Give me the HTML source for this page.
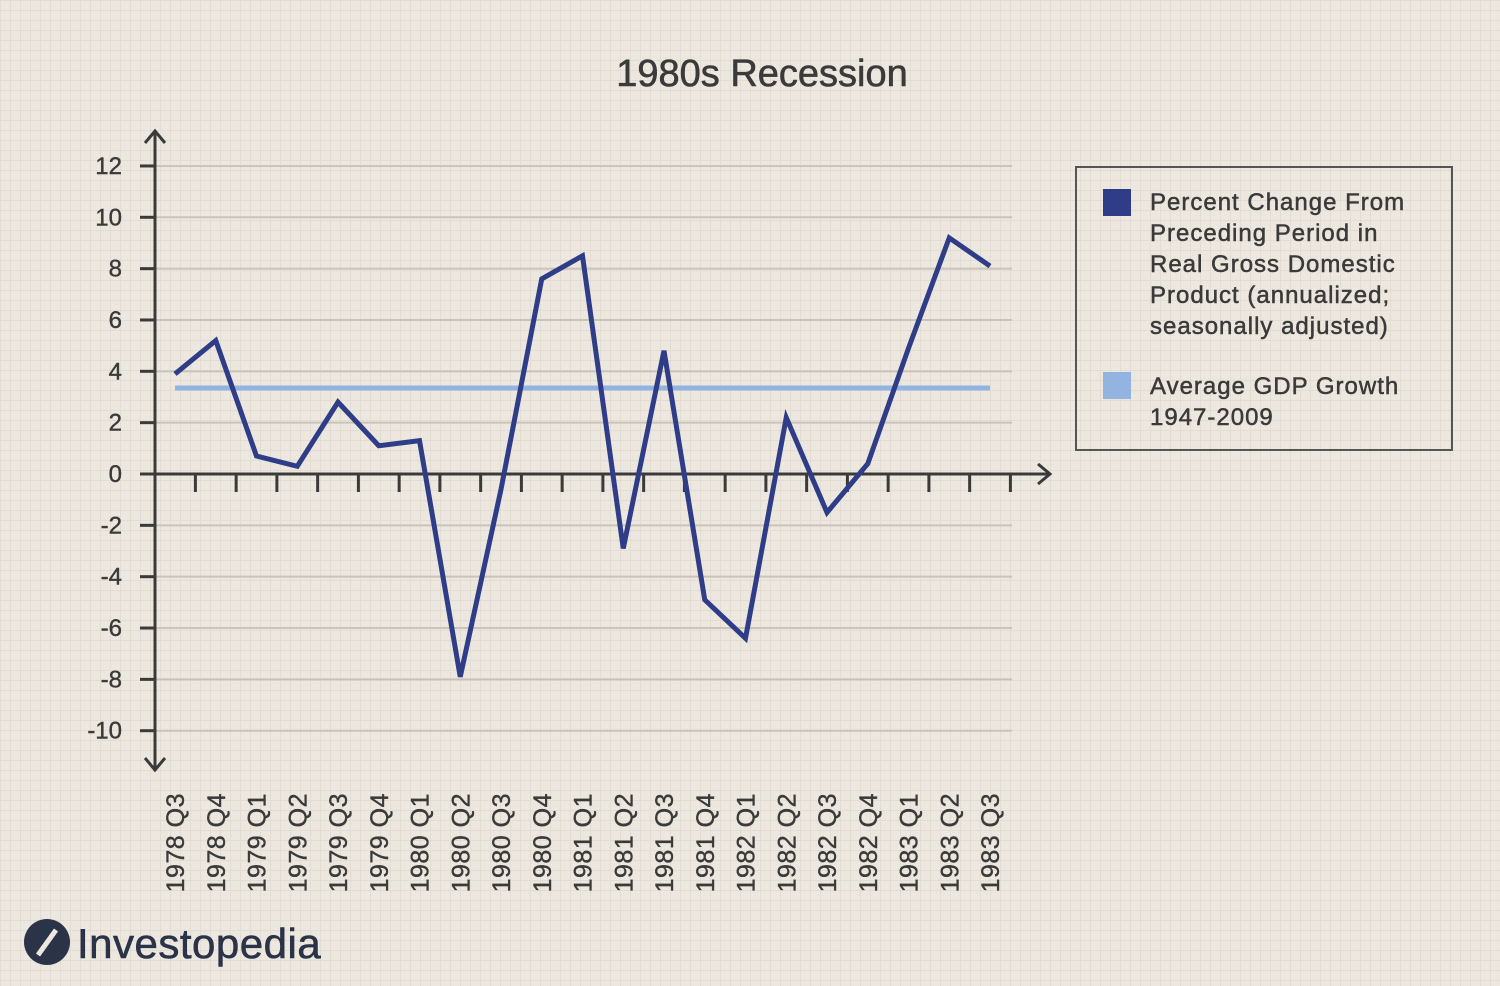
<!DOCTYPE html>
<html><head><meta charset="utf-8"><style>
body{margin:0;width:1500px;height:986px;overflow:hidden;background:#ede8df;font-family:"Liberation Sans",sans-serif;}
#bg{position:absolute;left:0;top:0;width:1500px;height:986px;background-color:#ede8df;background-image:linear-gradient(#e2dcd2 1px,transparent 1px),linear-gradient(90deg,#e2dcd2 1px,transparent 1px);background-size:10px 10px;}
svg{position:absolute;left:0;top:0}
</style></head><body>
<div id="bg"></div>
<svg id="chart" width="1500" height="986"></svg>
<script>
const categories=["1978 Q3","1978 Q4","1979 Q1","1979 Q2","1979 Q3","1979 Q4","1980 Q1","1980 Q2","1980 Q3","1980 Q4","1981 Q1","1981 Q2","1981 Q3","1981 Q4","1982 Q1","1982 Q2","1982 Q3","1982 Q4","1983 Q1","1983 Q2","1983 Q3"];
const gdpValues=[3.9,5.2,0.7,0.3,2.8,1.1,1.3,-7.9,-0.6,7.6,8.5,-2.9,4.8,-4.9,-6.4,2.2,-1.5,0.4,4.9,9.2,8.1];
const averageGrowth=[3.35];
const yTicks=[12,10,8,6,4,2,0,-2,-4,-6,-8,-10];
const NS="http://www.w3.org/2000/svg";
const svg=document.getElementById('chart');
const x=i=>175+i*(990-175)/(categories.length-1);
const y=v=>474-v*25.67;
function mk(t,a,p){const e=document.createElementNS(NS,t);for(const k in a)e.setAttribute(k,a[k]);(p||svg).appendChild(e);return e;}
let t=mk('text',{x:762,y:86,'text-anchor':'middle','font-size':38,fill:'#3a3a3a','stroke':'#3a3a3a','stroke-width':0.6});t.textContent='1980s Recession';


yTicks.forEach(v=>{
 if(v!==0){const g=mk('line',{x1:155,x2:1012,y1:y(v),y2:y(v),stroke:'#c9c3ba','stroke-width':2});
 
 }
 mk('line',{x1:140,x2:155,y1:y(v),y2:y(v),stroke:'#3a3a3a','stroke-width':3});
 const l=mk('text',{x:122,y:y(v)+8,'text-anchor':'end','font-size':24,fill:'#3a3a3a','stroke':'#3a3a3a','stroke-width':0.4});l.textContent=v;
 
 
});
let ax=mk('path',{d:'M155,133 L155,768 M145,143 L155,131 L165,143 M145,758 L155,770 L165,758',stroke:'#3a3a3a','stroke-width':3,fill:'none'});


let xa=mk('path',{d:'M155,474 L1048,474 M1038,464 L1050,474 L1038,484',stroke:'#3a3a3a','stroke-width':3,fill:'none'});


for(let i=0;i<categories.length;i++){
 const tx=x(i)+20.4;
 mk('line',{x1:tx,x2:tx,y1:474,y2:492,stroke:'#3a3a3a','stroke-width':3});
 const l=mk('text',{transform:`translate(${x(i)+9},793) rotate(-90)`,'text-anchor':'end','font-size':25,fill:'#3a3a3a','stroke':'#3a3a3a','stroke-width':0.4,'letter-spacing':'0.5'});
 l.textContent=categories[i];
 
 
}
let avg=mk('line',{x1:x(0),x2:x(categories.length-1),y1:y(averageGrowth[0]),y2:y(averageGrowth[0]),stroke:'#93b4e0','stroke-width':5});


let pl=mk('polyline',{points:gdpValues.map((v,i)=>x(i)+','+y(v)).join(' '),fill:'none',stroke:'#2f3c88','stroke-width':5,'stroke-linejoin':'miter'});


let lg=mk('rect',{x:1076,y:167,width:376,height:283,fill:'none',stroke:'#555','stroke-width':2});


let s1=mk('rect',{x:1103,y:189,width:28,height:27,fill:'#2f3c88'});


let s2=mk('rect',{x:1103,y:372,width:28,height:27,fill:'#93b4e0'});


const L1=["Percent Change From","Preceding Period in","Real Gross Domestic","Product (annualized;","seasonally adjusted)"];
L1.forEach((s,i)=>{const e=mk('text',{x:1150,y:210+i*31,'font-size':24,fill:'#3a3a3a','stroke':'#3a3a3a','stroke-width':0.5,'letter-spacing':'1'});e.textContent=s;

});
["Average GDP Growth","1947-2009"].forEach((s,i)=>{const e=mk('text',{x:1150,y:394+i*31,'font-size':24,fill:'#3a3a3a','stroke':'#3a3a3a','stroke-width':0.5,'letter-spacing':'1'});e.textContent=s;

});
let c=mk('circle',{cx:47,cy:942,r:23,fill:'#2a3348'});


mk('path',{d:'M38,955 L56,930',stroke:'#ede8df','stroke-width':5});
let lt=mk('text',{x:77,y:958,'font-size':42,fill:'#2a3348','stroke':'#2a3348','stroke-width':0.6,'letter-spacing':'0.5'});lt.textContent='Investopedia';


</script>
</body></html>
